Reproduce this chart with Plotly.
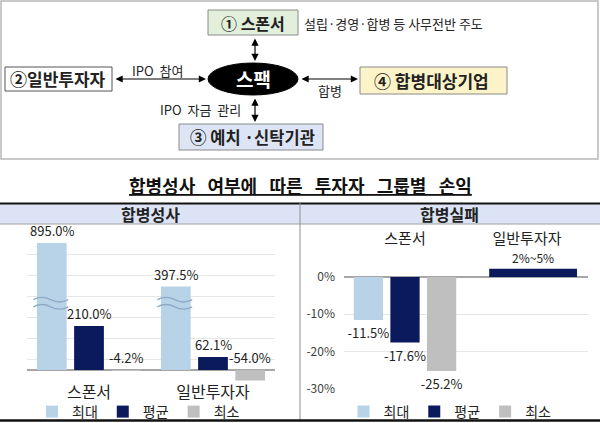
import plotly.graph_objects as go

# ---------------- data ----------------
categories = ['스폰서', '일반투자자']
series_names = ['최대', '평균', '최소']

success_max = [895.0, 397.5]
success_avg = [210.0, 62.1]
success_min = [-4.2, -54.0]

fail_max = [-11.5, None]
fail_avg = [-17.6, 2.2]
fail_min = [-25.2, None]
fail_avg_labels = ['-17.6%', '2%~5%']

fail_ticks = [0, -10, -20, -30]
fail_tick_labels = ['0%', '-10%', '-20%', '-30%']

# ---------------- style ----------------
COLORS = {'최대': '#b8d3e8', '평균': '#0b1a5c', '최소': '#bfbfbf'}
FONT = 'Noto Sans CJK KR'
TXT = '#222222'
W, H = 600, 423
BARGAP, GROUPGAP = 0.1, 0.2
LEFT_YMAX = 605
SP = '\u00a0\u00a0 '


def px(x):
    return x / W


def py(y):
    return 1 - y / H


fig = go.Figure()

# ---------------- left chart: 합병성사 ----------------
success = [success_max, success_avg, success_min]
for name, vals in zip(series_names, success):
    fig.add_trace(go.Bar(
        x=[0, 1], y=vals, name=name, marker_color=COLORS[name],
        marker_line_width=0, xaxis='x', yaxis='y', legend='legend',
        hoverinfo='skip'))

slot = (1 - BARGAP) / 3
annotations = []
for i, vals in enumerate(success):
    for j, v in enumerate(vals):
        yv = min(v, LEFT_YMAX) if v >= 0 else 0
        annotations.append(dict(
            x=j + (i - 1) * slot, y=yv, xref='x', yref='y', text=f'{v:.1f}%',
            showarrow=False, yanchor='bottom', yshift=1,
            font=dict(family=FONT, size=13, color=TXT)))

# ---------------- right chart: 합병실패 ----------------
fail_grouped = {
    '최대': fail_max,
    '평균': [fail_avg[0], None],
    '최소': fail_min,
}
for name in series_names:
    vals = fail_grouped[name]
    fig.add_trace(go.Bar(
        x=[0, 1], y=vals, name=name, marker_color=COLORS[name],
        marker_line_width=0, xaxis='x2', yaxis='y2', legend='legend2',
        text=[f'{v:.1f}%' if v is not None else '' for v in vals],
        textposition='outside', constraintext='none', cliponaxis=False,
        textfont=dict(family=FONT, size=13, color=TXT), hoverinfo='skip'))

fig.add_trace(go.Bar(
    x=[1], y=[fail_avg[1]], name='평균', marker_color=COLORS['평균'],
    marker_line_width=0, xaxis='x2', yaxis='y2', legend='legend2',
    width=[0.72], offset=[-0.31], showlegend=False,
    text=[fail_avg_labels[1]], textposition='outside', constraintext='none',
    cliponaxis=False, textfont=dict(family=FONT, size=12, color=TXT),
    hoverinfo='skip'))

# ---------------- shapes ----------------
shapes = []


def rect(x0, y0, x1, y1, fill, line='#888888', lw=1):
    shapes.append(dict(type='rect', xref='paper', yref='paper',
                       x0=px(x0), x1=px(x1), y0=py(y1), y1=py(y0),
                       fillcolor=fill, line=dict(color=line, width=lw)))


def hline(x0, x1, y, color, lw):
    shapes.append(dict(type='line', xref='paper', yref='paper',
                       x0=px(x0), x1=px(x1), y0=py(y), y1=py(y),
                       line=dict(color=color, width=lw)))


# top diagram frame
rect(1, 1, 598, 159, 'rgba(0,0,0,0)', line='#b8b8b8', lw=1.5)
# boxes
rect(208, 10, 298, 35, '#e2efda', line='#8a8a8a')
rect(5, 67, 112, 91, '#ffffff', line='#555555')
rect(360, 67, 507, 94, '#fdf3c8', line='#8a8a8a')
rect(179, 124, 323, 150, '#dde4f4', line='#8a8a8a')
# ellipse
shapes.append(dict(type='circle', xref='paper', yref='paper',
                   x0=px(208), x1=px(298), y0=py(95), y1=py(63),
                   fillcolor='#000000', line=dict(color='#000000', width=1)))

# header band
rect(0, 203, 600, 224, '#dce3f4', line='rgba(0,0,0,0)', lw=0)
hline(0, 600, 203.5, '#111111', 2)
hline(0, 600, 224, '#a0a0a0', 1)
shapes.append(dict(type='line', xref='paper', yref='paper',
                   x0=px(300), x1=px(300), y0=py(420), y1=py(203),
                   line=dict(color='#909090', width=1)))
hline(0, 600, 420.5, '#111111', 2.5)

# axis-break waves on the 최대 bars (left chart)
bar_w = slot * (1 - GROUPGAP)
for j in range(len(categories)):
    c = j - slot
    x0 = c - bar_w * 0.62
    x1 = c + bar_w * 0.55
    w = x1 - x0
    for yc in (335, 301):
        a = 11
        path = (f'M {x0},{yc} Q {x0 + w / 4},{yc + 2 * a} {x0 + w / 2},{yc} '
                f'Q {x0 + 3 * w / 4},{yc - 2 * a} {x1},{yc}')
        shapes.append(dict(type='path', xref='x', yref='y', path=path,
                           line=dict(color='#8fa9c6', width=1.4),
                           layer='above'))


# ---------------- diagram text ----------------
def label(x, y, text, size=14, color=TXT, bold=False, xanchor='center'):
    annotations.append(dict(
        x=px(x), y=py(y), xref='paper', yref='paper',
        text=f'<b>{text}</b>' if bold else text, showarrow=False,
        xanchor=xanchor, yanchor='middle',
        font=dict(family=FONT, size=size, color=color)))


label(253, 23, '① 스폰서', size=16, bold=True)
label(302, 24, '설립·경영·합병 등 사무전반 주도', size=13, xanchor='left')
label(58, 79, '②일반투자자', size=17, bold=True)
label(253, 79, '스팩', size=19, color='#ffffff', bold=True)
label(431, 81, '④ 합병대상기업', size=17, bold=True)
label(252, 137, '③ 예치 ·신탁기관', size=16.5, bold=True)
label(157, 70, 'IPO  참여', size=13)
label(330, 91, '합병', size=13)
label(200, 109, 'IPO  자금  관리', size=13)


def arrow(x1, y1, x2, y2):
    annotations.append(dict(
        x=px(x2), y=py(y2), xref='paper', yref='paper',
        ax=x1 - x2, ay=y1 - y2, axref='pixel', ayref='pixel',
        text='', font=dict(size=1), showarrow=True,
        arrowhead=2, startarrowhead=2, arrowside='end+start',
        arrowsize=1.2, startarrowsize=1.2, arrowwidth=1.2,
        arrowcolor='#000000'))


arrow(255, 37, 255, 61)
arrow(114, 79, 206, 79)
arrow(300, 79, 358, 79)
arrow(255, 97, 255, 122)

# ---------------- bottom titles ----------------
title_words = ['합병성사', '여부에', '따른', '투자자', '그룹별', '손익']
annotations.append(dict(
    x=0.5, y=py(185), xref='paper', yref='paper',
    text='<b><u>' + SP.join(title_words) + '</u></b>',
    showarrow=False, font=dict(family=FONT, size=18, color='#111111')))
label(150, 213.5, '합병성사', size=16, bold=True)
label(449, 213.5, '합병실패', size=16, bold=True)

# ---------------- layout ----------------
fig.update_layout(
    width=W, height=H, margin=dict(l=0, r=0, t=0, b=0, autoexpand=False),
    paper_bgcolor='#ffffff', plot_bgcolor='rgba(0,0,0,0)',
    barmode='group', bargap=BARGAP, bargroupgap=GROUPGAP,
    font=dict(family=FONT, color=TXT),
    xaxis=dict(domain=[px(27), px(275)], range=[-0.5, 1.5], anchor='y',
               tickvals=[0, 1], ticktext=categories, showgrid=False,
               zeroline=False, showline=False, ticks='',
               tickfont=dict(family=FONT, size=16, color=TXT)),
    yaxis=dict(domain=[py(380.5), py(243)], range=[-50, LEFT_YMAX], anchor='x',
               tick0=50, dtick=100, showticklabels=False, ticks='',
               gridcolor='#e6e6e6', gridwidth=1, zeroline=True,
               zerolinecolor='#a6a6a6', zerolinewidth=1.5),
    xaxis2=dict(domain=[px(344), px(588)], range=[-0.5, 1.5], anchor='y2',
                side='top', tickvals=[0, 1], ticktext=categories,
                ticklabelstandoff=3,
                showgrid=False, zeroline=False, showline=False, ticks='',
                tickfont=dict(family=FONT, size=15, color=TXT)),
    yaxis2=dict(domain=[py(389.5), py(251)], range=[-30.2, 7], anchor='x2',
                tickvals=fail_ticks, ticktext=fail_tick_labels, ticks='',
                ticklabelstandoff=8, gridcolor='#e6e6e6', gridwidth=1,
                zeroline=True, zerolinecolor='#a6a6a6', zerolinewidth=1.5,
                tickfont=dict(family=FONT, size=12, color='#404040')),
    legend=dict(orientation='h', x=px(32), y=py(396), xanchor='left',
                yanchor='top', font=dict(family=FONT, size=14, color=TXT),
                bgcolor='rgba(0,0,0,0)', traceorder='normal'),
    legend2=dict(orientation='h', x=px(450), y=py(396), xanchor='center',
                 yanchor='top', font=dict(family=FONT, size=14, color=TXT),
                 bgcolor='rgba(0,0,0,0)', traceorder='normal'),
    shapes=shapes, annotations=annotations,
)

fig.write_html('out.html')
